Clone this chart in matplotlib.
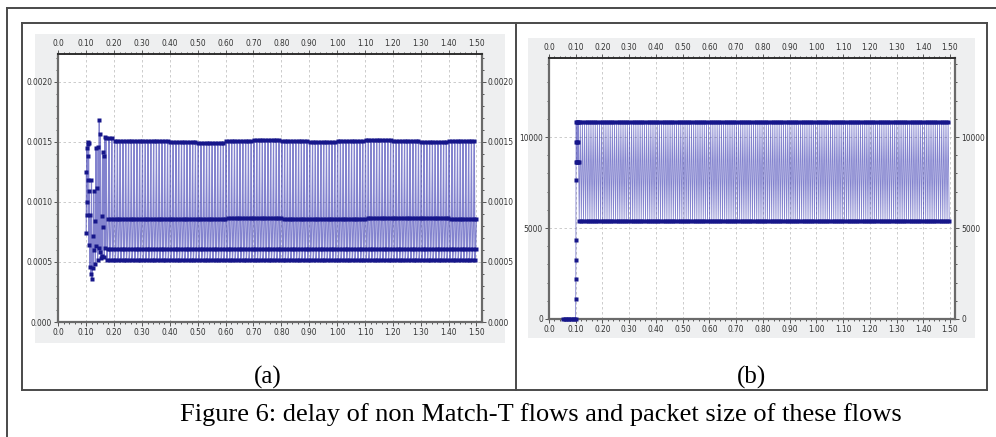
import numpy as np
import matplotlib
matplotlib.use("Agg")
import matplotlib.pyplot as plt
from matplotlib.lines import Line2D
from matplotlib.patches import Rectangle
from matplotlib.ticker import FixedLocator, MultipleLocator
from matplotlib import font_manager

W, H = 996, 437

# ---------------- data (a): delay of non Match-T flows [s] ----------------
# start-up transient, read point by point
a_start_t = [0.100, 0.101, 0.102, 0.103, 0.104, 0.105, 0.106, 0.107, 0.108, 0.109,
             0.110, 0.111, 0.113, 0.115, 0.117, 0.119, 0.121, 0.123, 0.125, 0.127,
             0.129, 0.131, 0.133, 0.135, 0.137, 0.139, 0.141, 0.143, 0.145, 0.147,
             0.149, 0.151, 0.153, 0.155, 0.157, 0.159, 0.161, 0.163, 0.165, 0.167,
             0.169]
a_start_v = [0.00074, 0.00125, 0.00089, 0.00145, 0.00100, 0.00148, 0.00118, 0.00150, 0.00138, 0.00149,
             0.00064, 0.00109, 0.00046, 0.00089, 0.00040, 0.00118, 0.00036, 0.00072, 0.00045, 0.00109,
             0.00060, 0.00084, 0.00048, 0.00145, 0.00063, 0.00112, 0.00052, 0.00146, 0.00062, 0.00168,
             0.00058, 0.00157, 0.00053, 0.00088, 0.00055, 0.00142, 0.00079, 0.00138, 0.00054, 0.00154,
             0.00062]
# steady part: four delay bands, level per 0.1 s segment
a_seg_start = [0.1, 0.2, 0.3, 0.4, 0.5, 0.6, 0.7, 0.8, 0.9, 1.0, 1.1, 1.2, 1.3, 1.4]
a_top    = [0.00153, 0.00151, 0.00151, 0.00150, 0.00149, 0.00151, 0.00152,
            0.00151, 0.00150, 0.00151, 0.00152, 0.00151, 0.00150, 0.00151]
a_second = [0.00086, 0.00086, 0.00086, 0.00086, 0.00086, 0.00087, 0.00087,
            0.00086, 0.00086, 0.00086, 0.00087, 0.00087, 0.00087, 0.00086]
a_third  = [0.00061, 0.00061, 0.00061, 0.00061, 0.00061, 0.00061, 0.00061,
            0.00061, 0.00061, 0.00061, 0.00061, 0.00061, 0.00061, 0.00061]
a_bottom = [0.00052, 0.00052, 0.00052, 0.00052, 0.00052, 0.00052, 0.00052,
            0.00052, 0.00052, 0.00052, 0.00052, 0.00052, 0.00052, 0.00052]
a_cycle = [0, 3, 2, 1]          # band visited by successive packets
a_t0, a_t1, a_step = 0.172, 1.500, 0.0025

a_yticks = [0.0, 0.0005, 0.0010, 0.0015, 0.0020]
a_ylabels = ["0.000", "0.0005", "0.0010", "0.0015", "0.0020"]

# ---------------- data (b): packet size ----------------
b_start_t = [0.052, 0.058, 0.064, 0.070, 0.076, 0.082, 0.088, 0.094, 0.0995,
             0.1000, 0.1002, 0.1004, 0.1006, 0.1008, 0.1010, 0.1012, 0.1016,
             0.1030, 0.1040, 0.1050, 0.1060, 0.1070, 0.1080, 0.1090, 0.1100, 0.1110]
b_start_v = [0, 0, 0, 0, 0, 0, 0, 0, 0,
             1080, 2180, 3240, 4340, 7640, 8600, 9700, 10800,
             8600, 10800, 9700, 8600, 10800, 9700, 8600, 10800, 8600]
b_seg_start = [0.1]
b_high = [10800]
b_low = [5400]
b_cycle = [1, 0]
b_t0, b_t1, b_step = 0.113, 1.497, 0.004

b_yticks = [0, 5000, 10000]
b_ylabels = ["0", "5000", "10000"]

x_ticks = [0.0, 0.1, 0.2, 0.3, 0.4, 0.5, 0.6, 0.7, 0.8, 0.9, 1.0, 1.1, 1.2, 1.3, 1.4, 1.5]
x_labels = ["0.0", "0.10", "0.20", "0.30", "0.40", "0.50", "0.60", "0.70",
            "0.80", "0.90", "1.00", "1.10", "1.20", "1.30", "1.40", "1.50"]


def steady(t0, t1, step, seg_start, levels, cycle):
    t = np.arange(t0, t1 + 1e-9, step)
    seg = np.clip(np.searchsorted(seg_start, t, side="right") - 1, 0, len(seg_start) - 1)
    band = np.array(cycle)[np.arange(len(t)) % len(cycle)]
    return t, np.array(levels)[band, seg]


ta, va = steady(a_t0, a_t1, a_step, a_seg_start, [a_top, a_second, a_third, a_bottom], a_cycle)
ta = np.concatenate([a_start_t, ta])
va = np.concatenate([a_start_v, va])

tb, vb = steady(b_t0, b_t1, b_step, b_seg_start, [b_high, b_low], b_cycle)
tb = np.concatenate([b_start_t, tb])
vb = np.concatenate([b_start_v, vb])

# ---------------- fonts ----------------
# narrow face for the tiny tick labels, if one is installed
narrow = None
for f in font_manager.fontManager.ttflist:
    low = f.fname.lower()
    if ("narrow" in low or "condensed" in low) and "bold" not in low and "oblique" not in low \
            and "italic" not in low and "sans" in low:
        narrow = f.fname
        break
if narrow:
    tick_fp = font_manager.FontProperties(fname=narrow, size=6)
else:
    tick_fp = font_manager.FontProperties(family="DejaVu Sans", size=4.6)

plt.rcParams["font.family"] = ["Liberation Serif", "DejaVu Serif"]

LINE_C = "#3030ae"
MARK_C = "#16168a"
SPINE_C = "#6a6a6a"
GRID_C = "#c4c4c4"
BG_C = "#eeeff0"

fig = plt.figure(figsize=(W / 100, H / 100), dpi=100)


def fx(x):
    return x / W


def fy(y):
    return 1 - y / H


def box(x0, y0, x1, y1, **kw):
    fig.add_artist(Rectangle((fx(x0), fy(y1)), fx(x1) - fx(x0), fy(y0) - fy(y1),
                             transform=fig.transFigure, **kw))


def hline(x0, x1, y, **kw):
    fig.add_artist(Line2D([fx(x0), fx(x1)], [fy(y), fy(y)], transform=fig.transFigure, **kw))


def vline(x, y0, y1, **kw):
    fig.add_artist(Line2D([fx(x), fx(x)], [fy(y0), fy(y1)], transform=fig.transFigure, **kw))


# page frame / table
frame = dict(color="#4a4a4a", lw=1.4)
hline(7, 996, 8, **frame)
vline(7, 8, 437, **frame)
hline(22, 987, 23, **frame)
hline(22, 987, 390, **frame)
vline(22, 23, 390, **frame)
vline(987, 23, 390, **frame)
vline(516, 23, 390, **frame)

# gray chart backgrounds
box(35, 34, 505, 343, color=BG_C, lw=0, zorder=0)
box(528, 38, 975, 338, color=BG_C, lw=0, zorder=0)


def make_axes(px0, py0, px1, py1):
    ax = fig.add_axes([fx(px0), fy(py1), fx(px1) - fx(px0), fy(py0) - fy(py1)])
    ax.set_facecolor("white")
    return ax


def style(ax, yticks, ylabels, ymax, yminor):
    ax.set_xlim(0, 1.5187)
    ax.set_ylim(0, ymax)
    ax.xaxis.set_major_locator(FixedLocator(x_ticks))
    ax.set_xticklabels(x_labels)
    ax.xaxis.set_minor_locator(MultipleLocator(0.02))
    ax.yaxis.set_major_locator(FixedLocator(yticks))
    ax.set_yticklabels(ylabels)
    ax.yaxis.set_minor_locator(MultipleLocator(yminor))
    ax.tick_params(which="both", direction="out", top=True, right=True,
                   labeltop=True, labelright=True, color="#555555", width=0.7,
                   labelcolor="#333333", pad=1.2)
    ax.tick_params(which="major", length=3.2)
    ax.tick_params(which="minor", length=1.6)
    for axis in (ax.xaxis, ax.yaxis):
        for tk in axis.get_major_ticks():
            tk.label1.set_fontproperties(tick_fp)
            tk.label2.set_fontproperties(tick_fp)
    ax.grid(True, which="major", color=GRID_C, lw=0.6, ls=(0, (3, 3)))
    ax.set_axisbelow(True)
    for side in ["left", "right", "bottom"]:
        ax.spines[side].set_color(SPINE_C)
        ax.spines[side].set_linewidth(1.6)
    ax.spines["top"].set_color("#2e2e2e")
    ax.spines["top"].set_linewidth(1.4)


# (a)
ax1 = make_axes(58.3, 54, 481.7, 322)
ax1.plot(ta, va, color=LINE_C, lw=0.85, alpha=0.6)
ax1.plot(ta, va, ls="none", marker="s", ms=2.9, color=MARK_C, mec="none", zorder=3)
style(ax1, a_yticks, a_ylabels, 0.002233, 0.0001)

# (b)
ax2 = make_axes(549, 58, 955, 319)
ax2.plot(tb, vb, color=LINE_C, lw=0.6, alpha=0.6)
ax2.plot(tb, vb, ls="none", marker="s", ms=2.9, color=MARK_C, mec="none",
         zorder=3, clip_on=False)
style(ax2, b_yticks, b_ylabels, 14341, 1000)

fig.text(fx(268), fy(377), "(a)", fontsize=18, ha="center", va="center")
fig.text(fx(751), fy(377), "(b)", fontsize=18, ha="center", va="center")
fig.text(fx(541), fy(415), "Figure 6: delay of non Match-T flows and packet size of these flows",
         fontsize=19, ha="center", va="center")

fig.savefig("out.png", dpi=100)
